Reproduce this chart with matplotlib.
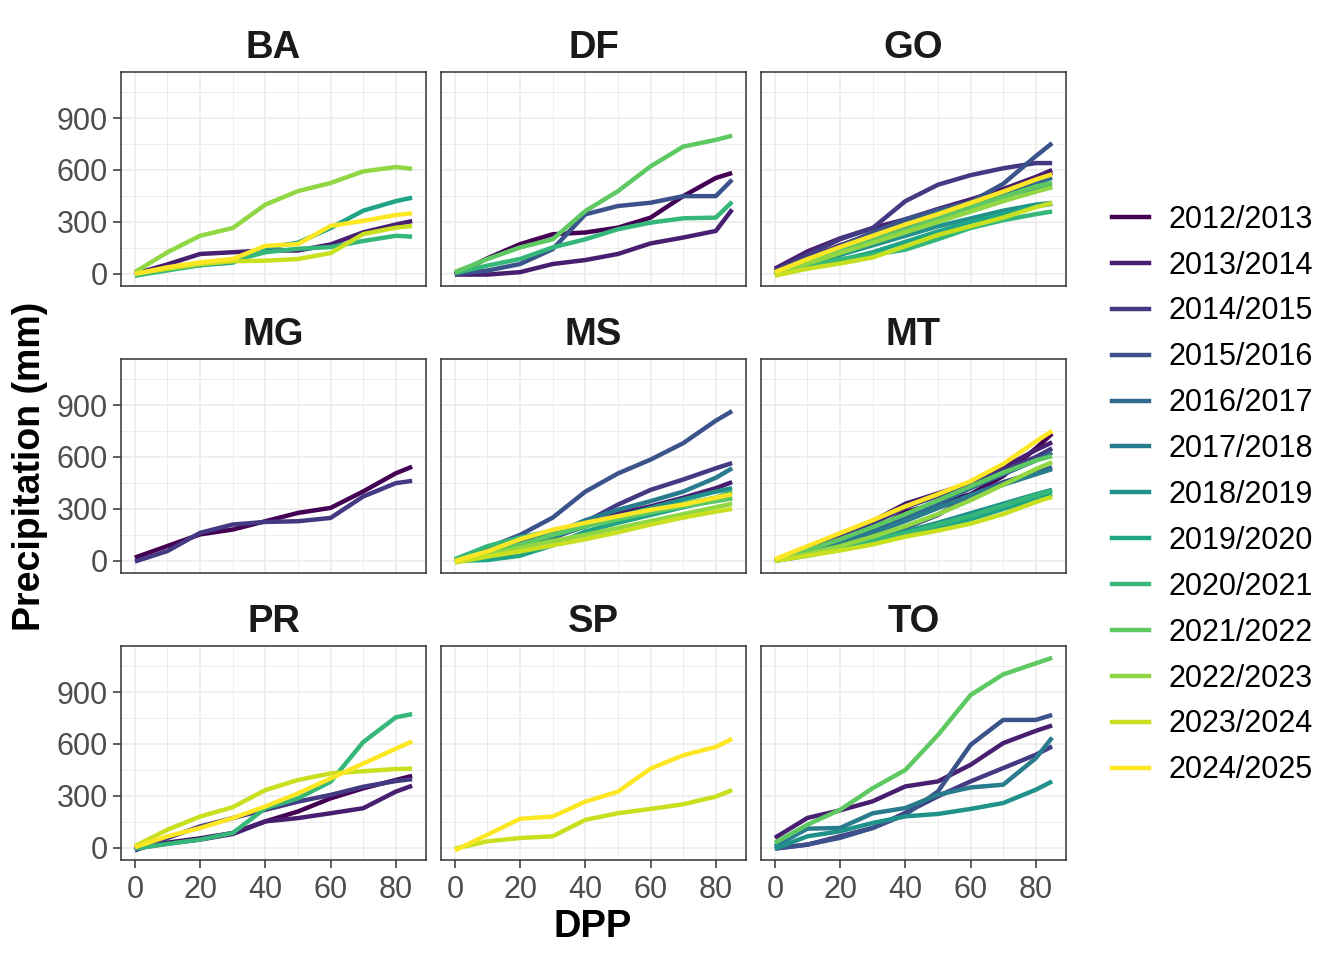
import numpy as np
import matplotlib
matplotlib.use("Agg")
import matplotlib.pyplot as plt
from matplotlib.lines import Line2D
from matplotlib.ticker import MultipleLocator

plt.rcParams['font.family'] = ['Liberation Sans', 'DejaVu Sans']

# seasons (legend order) and days past planting
seasons = ['2012/2013', '2013/2014', '2014/2015', '2015/2016', '2016/2017',
           '2017/2018', '2018/2019', '2019/2020', '2020/2021', '2021/2022',
           '2022/2023', '2023/2024', '2024/2025']
dpp = [0, 10, 20, 30, 40, 50, 60, 70, 80, 85]

# cumulative precipitation (mm), per state
BA = {
    '2013/2014': [0, 55, 115, 125, 135, 135, 170, 240, 285, 305],
    '2019/2020': [-10, 30, 50, 65, 150, 180, 265, 365, 420, 440],
    '2020/2021': [-10, 20, 50, 75, 125, 145, 155, 190, 220, 215],
    '2022/2023': [10, 125, 220, 265, 400, 478, 525, 592, 617, 607],
    '2023/2024': [0, 30, 57, 73, 76, 86, 120, 230, 267, 277],
    '2024/2025': [0, 38, 67, 86, 162, 172, 277, 306, 340, 350],
}
DF = {
    '2012/2013': [-4, 90, 172, 229, 239, 267, 325, 449, 554, 583],
    '2013/2014': [-4, -4, 10, 57, 80, 115, 176, 210, 248, 372],
    '2015/2016': [0, 19, 57, 143, 344, 392, 411, 449, 449, 544],
    '2020/2021': [5, 48, 86, 153, 200, 258, 296, 321, 325, 416],
    '2021/2022': [10, 86, 153, 200, 363, 478, 621, 735, 774, 798],
}
GO = {
    '2012/2013': [15, 90, 165, 230, 290, 350, 410, 470, 540, 585],
    '2013/2014': [30, 130, 205, 265, 315, 375, 430, 490, 560, 600],
    '2014/2015': [20, 110, 200, 265, 420, 515, 570, 610, 640, 640],
    '2015/2016': [5, 90, 160, 240, 315, 370, 415, 520, 680, 755],
    '2016/2017': [0, 80, 150, 220, 290, 355, 410, 465, 525, 555],
    '2017/2018': [0, 70, 135, 200, 270, 335, 395, 450, 495, 505],
    '2018/2019': [0, 55, 110, 165, 220, 275, 320, 365, 400, 410],
    '2019/2020': [-5, 40, 80, 125, 185, 245, 300, 345, 390, 405],
    '2020/2021': [0, 45, 85, 110, 140, 200, 265, 310, 345, 360],
    '2021/2022': [5, 70, 135, 195, 255, 320, 385, 445, 505, 525],
    '2022/2023': [0, 60, 120, 180, 240, 300, 360, 420, 475, 500],
    '2023/2024': [-10, 30, 60, 95, 160, 225, 275, 325, 385, 410],
    '2024/2025': [10, 85, 155, 220, 285, 345, 410, 475, 545, 575],
}
MG = {
    '2012/2013': [19, 86, 153, 181, 229, 277, 306, 401, 506, 544],
    '2014/2015': [-4, 57, 162, 210, 225, 229, 248, 372, 449, 462],
}
MS = {
    '2013/2014': [0, 40, 85, 135, 200, 275, 315, 365, 420, 455],
    '2014/2015': [0, 50, 100, 160, 225, 325, 410, 470, 535, 565],
    '2015/2016': [0, 75, 150, 250, 400, 505, 585, 680, 810, 865],
    '2017/2018': [0, 45, 95, 155, 235, 295, 345, 400, 480, 535],
    '2018/2019': [0, 40, 85, 140, 200, 255, 305, 355, 400, 420],
    '2019/2020': [0, 5, 30, 90, 170, 220, 265, 310, 350, 365],
    '2020/2021': [10, 85, 135, 175, 210, 250, 290, 330, 365, 400],
    '2021/2022': [0, 40, 95, 150, 200, 240, 280, 315, 345, 360],
    '2022/2023': [-5, 35, 75, 115, 150, 190, 230, 270, 310, 330],
    '2023/2024': [-10, 25, 55, 90, 125, 165, 210, 250, 285, 300],
    '2024/2025': [0, 55, 125, 180, 220, 258, 295, 325, 365, 385],
}
MT = {
    '2012/2013': [0, 50, 100, 175, 285, 330, 385, 490, 650, 735],
    '2013/2014': [0, 70, 140, 230, 330, 390, 450, 540, 640, 685],
    '2014/2015': [0, 65, 130, 215, 310, 375, 440, 520, 600, 650],
    '2015/2016': [0, 40, 80, 120, 190, 265, 380, 455, 510, 540],
    '2016/2017': [0, 55, 110, 175, 250, 330, 420, 500, 580, 625],
    '2017/2018': [0, 50, 100, 160, 230, 305, 380, 440, 500, 530],
    '2018/2019': [0, 40, 80, 125, 170, 220, 275, 330, 385, 410],
    '2019/2020': [0, 30, 65, 105, 145, 190, 240, 300, 355, 385],
    '2020/2021': [0, 35, 75, 120, 160, 210, 260, 320, 380, 405],
    '2021/2022': [0, 60, 125, 195, 270, 350, 430, 510, 580, 605],
    '2022/2023': [0, 40, 85, 140, 200, 270, 350, 440, 530, 570],
    '2023/2024': [0, 30, 60, 95, 140, 175, 215, 270, 340, 370],
    '2024/2025': [10, 85, 160, 235, 315, 385, 460, 560, 690, 750],
}
PR = {
    '2012/2013': [0, 30, 55, 86, 153, 210, 286, 344, 392, 416],
    '2013/2014': [-4, 25, 48, 80, 153, 172, 200, 229, 325, 359],
    '2014/2015': [-15, 57, 124, 172, 220, 267, 306, 353, 386, 397],
    '2020/2021': [-4, 23, 48, 86, 229, 286, 382, 611, 754, 773],
    '2023/2024': [10, 105, 181, 235, 334, 392, 430, 443, 455, 458],
    '2024/2025': [4, 67, 115, 172, 239, 315, 401, 487, 573, 615],
}
SP = {
    '2023/2024': [-4, 38, 57, 67, 162, 200, 225, 252, 296, 334],
    '2024/2025': [-15, 76, 168, 181, 267, 325, 458, 535, 583, 630],
}
TO = {
    '2013/2014': [58, 173, 217, 269, 355, 384, 480, 605, 676, 707],
    '2014/2015': [-4, 19, 67, 115, 202, 298, 384, 461, 538, 586],
    '2015/2016': [-4, 19, 58, 115, 192, 326, 595, 739, 739, 768],
    '2017/2018': [10, 111, 115, 200, 230, 307, 349, 365, 518, 637],
    '2018/2019': [-4, 67, 96, 144, 182, 196, 225, 259, 336, 384],
    '2021/2022': [29, 134, 220, 345, 450, 652, 883, 1002, 1066, 1098],
}

states = ['BA', 'DF', 'GO', 'MG', 'MS', 'MT', 'PR', 'SP', 'TO']
state_data = [BA, DF, GO, MG, MS, MT, PR, SP, TO]

colors = plt.cm.viridis(np.linspace(0, 1, len(seasons)))
season_color = dict(zip(seasons, colors))

fig = plt.figure(figsize=(13.44, 9.6), dpi=100)
W, H = 1344, 960
lefts = [121, 441, 761]
tops = [72, 359, 646]
pw, ph = 305, 214

for i, (name, data) in enumerate(zip(states, state_data)):
    r, c = divmod(i, 3)
    ax = fig.add_axes([lefts[c] / W, 1 - (tops[r] + ph) / H, pw / W, ph / H])
    for s in seasons:
        if s in data:
            ax.plot(dpp, data[s], color=season_color[s], lw=3.2,
                    solid_capstyle='butt', solid_joinstyle='round')
    ax.set_xlim(-4.25, 89.25)
    ax.set_ylim(-70, 1166)
    ax.xaxis.set_major_locator(MultipleLocator(20))
    ax.xaxis.set_minor_locator(MultipleLocator(10))
    ax.yaxis.set_major_locator(MultipleLocator(300))
    ax.yaxis.set_minor_locator(MultipleLocator(150))
    ax.grid(which='major', color='#EBEBEB', lw=1.1)
    ax.grid(which='minor', color='#EBEBEB', lw=0.6)
    ax.set_axisbelow(True)
    for sp in ax.spines.values():
        sp.set_color('#333333')
        sp.set_linewidth(1.1)
    ax.tick_params(which='minor', length=0)
    ax.tick_params(which='major', length=5.5, width=1.1, color='#333333',
                   labelsize=22, labelcolor='#4D4D4D', pad=4)
    ax.tick_params(axis='x', pad=5)
    if c != 0:
        ax.tick_params(axis='y', left=False, labelleft=False)
    if r != 2:
        ax.tick_params(axis='x', bottom=False, labelbottom=False)
    ax.set_title(name, fontsize=27.5, fontweight='bold', color='#1A1A1A', pad=10)

fig.text(30 / W, 1 - 466 / H, 'Precipitation (mm)', rotation=90, fontsize=27,
         fontweight='bold', ha='center', va='center')
fig.text(593 / W, 1 - 927 / H, 'DPP', fontsize=27.5, fontweight='bold',
         ha='center', va='center')

handles = [Line2D([], [], color=season_color[s], lw=3.2) for s in seasons]
fig.legend(handles, seasons, loc='center left', bbox_to_anchor=(1112 / W, 1 - 495 / H),
           frameon=False, fontsize=22, handlelength=1.2, handletextpad=0.65,
           labelspacing=0.52, borderpad=0, borderaxespad=0)

fig.savefig('out.png', dpi=100)
